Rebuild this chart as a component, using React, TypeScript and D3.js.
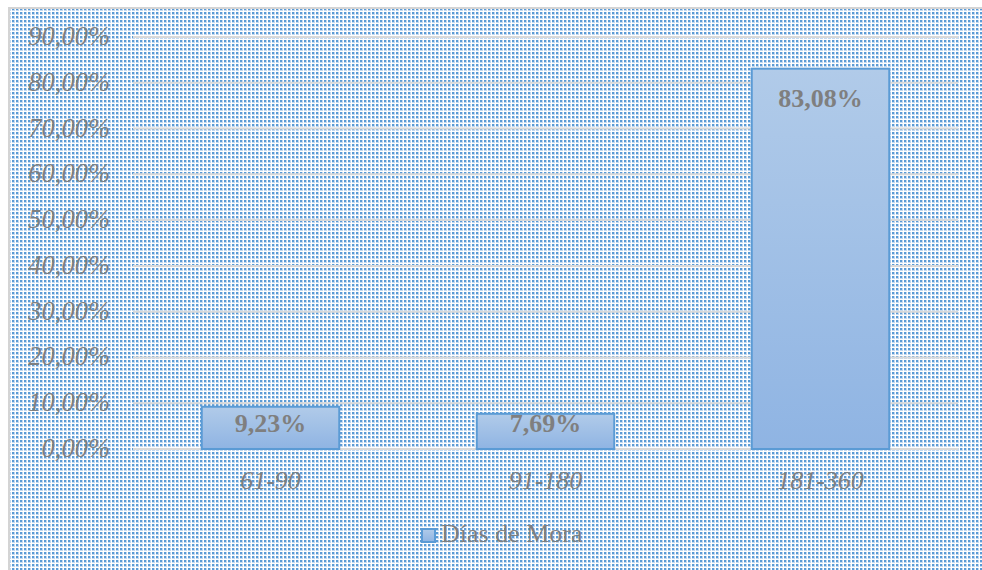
import React, { useRef, useEffect } from 'react';
import * as d3 from 'd3';

const categories = ['61-90', '91-180', '181-360'];
const values = [0.0923, 0.0769, 0.8308];
const valueLabels = ['9,23%', '7,69%', '83,08%'];
const yTicks = [0, 0.1, 0.2, 0.3, 0.4, 0.5, 0.6, 0.7, 0.8, 0.9];
const seriesName = 'Días de Mora';

const W = 982;
const H = 570;
const FONT = '"Liberation Serif", "Times New Roman", serif';
const GRAY = '#7f7f7f';

const App: React.FC = () => {
  const ref = useRef<SVGSVGElement>(null);

  useEffect(() => {
    const svg = d3.select(ref.current);
    svg.selectAll('*').remove();

    const x = d3
      .scaleBand<string>()
      .domain(categories)
      .range([133, 958])
      .paddingInner(0.5)
      .paddingOuter(0.25);
    const y = d3.scaleLinear().domain([0, 0.9]).range([449, 37]);

    const defs = svg.append('defs');

    // dotted chart background
    const pattern = defs
      .append('pattern')
      .attr('id', 'dots')
      .attr('patternUnits', 'userSpaceOnUse')
      .attr('width', 4)
      .attr('height', 4);
    pattern.append('rect').attr('width', 4).attr('height', 4).attr('fill', '#ffffff');
    pattern.append('rect').attr('width', 3).attr('height', 3).attr('fill', '#c2d8f0');
    pattern.append('rect').attr('width', 2).attr('height', 2).attr('fill', '#5b9bd5');

    const grad = defs
      .append('linearGradient')
      .attr('id', 'barFill')
      .attr('x1', '0%')
      .attr('y1', '0%')
      .attr('x2', '0%')
      .attr('y2', '100%');
    grad.append('stop').attr('offset', '0%').attr('stop-color', '#b1cbe9');
    grad.append('stop').attr('offset', '100%').attr('stop-color', '#8fb4e3');

    svg
      .append('rect')
      .attr('x', 9)
      .attr('y', 8)
      .attr('width', W + 20)
      .attr('height', H + 20)
      .attr('fill', 'url(#dots)')
      .attr('stroke', '#d4d4d4')
      .attr('stroke-width', 2);

    // gridlines
    svg
      .append('g')
      .selectAll('line')
      .data(yTicks)
      .enter()
      .append('line')
      .attr('x1', 133)
      .attr('x2', 958)
      .attr('y1', (d) => y(d))
      .attr('y2', (d) => y(d))
      .attr('stroke', '#d9d9d9')
      .attr('stroke-width', 2);

    // y labels
    svg
      .append('g')
      .selectAll('text')
      .data(yTicks)
      .enter()
      .append('text')
      .attr('x', 110)
      .attr('y', (d) => y(d) + 8)
      .attr('text-anchor', 'end')
      .attr('font-family', FONT)
      .attr('font-style', 'italic')
      .attr('font-size', 26.5)
      .attr('fill', GRAY)
      .text((d) => (d * 100).toFixed(2).replace('.', ',') + '%');

    // bars
    svg
      .append('g')
      .selectAll('rect')
      .data(values)
      .enter()
      .append('rect')
      .attr('x', (d, i) => x(categories[i])!)
      .attr('y', (d) => y(d))
      .attr('width', x.bandwidth())
      .attr('height', (d) => y(0) - y(d))
      .attr('fill', 'url(#barFill)')
      .attr('stroke', '#5b9bd5')
      .attr('stroke-width', 2);

    // data labels
    svg
      .append('g')
      .selectAll('text')
      .data(values)
      .enter()
      .append('text')
      .attr('x', (d, i) => x(categories[i])! + x.bandwidth() / 2)
      .attr('y', (d) => Math.min(y(d) + 38, y(0) - 17))
      .attr('text-anchor', 'middle')
      .attr('font-family', FONT)
      .attr('font-weight', 'bold')
      .attr('font-size', 26)
      .attr('fill', GRAY)
      .text((d, i) => valueLabels[i]);

    // category labels
    svg
      .append('g')
      .selectAll('text')
      .data(categories)
      .enter()
      .append('text')
      .attr('x', (d) => x(d)! + x.bandwidth() / 2)
      .attr('y', 489)
      .attr('text-anchor', 'middle')
      .attr('font-family', FONT)
      .attr('font-style', 'italic')
      .attr('font-size', 26)
      .attr('fill', GRAY)
      .text((d) => d);

    // legend
    const legend = svg.append('g');
    legend
      .append('rect')
      .attr('x', 422)
      .attr('y', 529)
      .attr('width', 13)
      .attr('height', 13)
      .attr('fill', 'url(#barFill)')
      .attr('stroke', '#5b9bd5')
      .attr('stroke-width', 2);
    legend
      .append('text')
      .attr('x', 441)
      .attr('y', 542)
      .attr('font-family', FONT)
      .attr('font-size', 26)
      .attr('fill', GRAY)
      .text(seriesName);
  }, []);

  return (
    <svg
      ref={ref}
      width={W}
      height={H}
      style={{ position: 'absolute', left: 0, top: 0, display: 'block' }}
    />
  );
};

export default App;
